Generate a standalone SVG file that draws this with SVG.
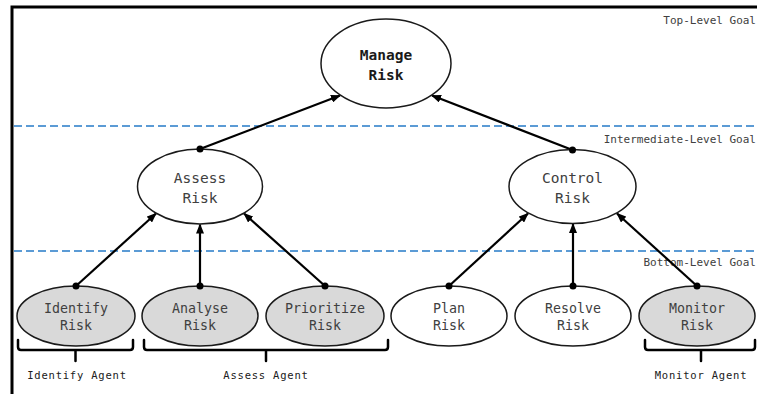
<svg xmlns="http://www.w3.org/2000/svg" width="757" height="394" viewBox="0 0 757 394">
  <style>
    text { font-family: "DejaVu Sans Mono", "Liberation Mono", monospace; fill: #404040; }
    .node { stroke: #1a1a1a; stroke-width: 1.5; fill: #ffffff; }
    .agent-node { fill: #d9d9d9; }
    .lbl-top { font-size: 14.5px; font-weight: bold; fill: #1a1a1a; text-anchor: middle; }
    .lbl-mid { font-size: 14.5px; text-anchor: middle; }
    .lbl-bot { font-size: 13.3px; text-anchor: middle; }
    .level { font-size: 11px; text-anchor: end; fill: #404040; }
    .agent { font-size: 10.5px; letter-spacing: 0.8px; text-anchor: middle; fill: #202020; }
    .divider { stroke: #5b9bd5; stroke-width: 2; stroke-dasharray: 8 4; }
    .edge { stroke: #000000; stroke-width: 2.2; fill: none; marker-end: url(#arrow); }
    .dot { fill: #000000; }
    .brace { stroke: #000000; stroke-width: 2.5; fill: none; stroke-linecap: round; stroke-linejoin: round; }
    .frame { stroke: #000000; stroke-width: 3; fill: none; }
  </style>
  <defs>
    <marker id="arrow" markerUnits="userSpaceOnUse" markerWidth="10" markerHeight="8" viewBox="0 0 10 8" refX="9" refY="4" orient="auto">
      <path d="M0,0 L10,4 L0,8 z" fill="#000000"/>
    </marker>
  </defs>

  <rect width="757" height="394" fill="#ffffff"/>

  <!-- frame -->
  <path class="frame" d="M12,394 V7 H757"/>

  <!-- level dividers -->
  <g id="levels">
    <line class="divider" x1="14" y1="126" x2="757" y2="126"/>
    <line class="divider" x1="14" y1="251" x2="757" y2="251"/>
    <text class="level" x="756" y="24">Top-Level Goal</text>
    <text class="level" x="756" y="143">Intermediate-Level Goal</text>
    <text class="level" x="756" y="266">Bottom-Level Goal</text>
  </g>

  <!-- connectors -->
  <g id="connectors">
    <line class="edge" x1="200" y1="149" x2="340" y2="95.5"/>
    <line class="edge" x1="572.5" y1="150" x2="432" y2="95.5"/>
    <line class="edge" x1="76" y1="286" x2="156" y2="213.5"/>
    <line class="edge" x1="200" y1="286" x2="200" y2="224.5"/>
    <line class="edge" x1="325" y1="286" x2="244" y2="213.5"/>
    <line class="edge" x1="449" y1="286" x2="528" y2="213.5"/>
    <line class="edge" x1="573" y1="286" x2="573" y2="224"/>
    <line class="edge" x1="697" y1="286" x2="617" y2="213.5"/>
  </g>

  <!-- goal nodes -->
  <g id="manage-risk">
    <ellipse class="node" cx="386" cy="63.5" rx="65" ry="44.5"/>
    <text class="lbl-top" x="386" y="60">Manage</text>
    <text class="lbl-top" x="386" y="80">Risk</text>
  </g>
  <g id="assess-risk">
    <ellipse class="node" cx="200" cy="186.5" rx="62.5" ry="37.5"/>
    <text class="lbl-mid" x="200" y="183">Assess</text>
    <text class="lbl-mid" x="200" y="203">Risk</text>
  </g>
  <g id="control-risk">
    <ellipse class="node" cx="572.5" cy="186.5" rx="63.5" ry="37"/>
    <text class="lbl-mid" x="572.5" y="183">Control</text>
    <text class="lbl-mid" x="572.5" y="203">Risk</text>
  </g>
  <g id="identify-risk">
    <ellipse class="node agent-node" cx="76" cy="316" rx="59" ry="30"/>
    <text class="lbl-bot" x="76" y="313">Identify</text>
    <text class="lbl-bot" x="76" y="330">Risk</text>
  </g>
  <g id="analyse-risk">
    <ellipse class="node agent-node" cx="200" cy="316" rx="58" ry="30"/>
    <text class="lbl-bot" x="200" y="313">Analyse</text>
    <text class="lbl-bot" x="200" y="330">Risk</text>
  </g>
  <g id="prioritize-risk">
    <ellipse class="node agent-node" cx="325" cy="316" rx="59" ry="30"/>
    <text class="lbl-bot" x="325" y="313">Prioritize</text>
    <text class="lbl-bot" x="325" y="330">Risk</text>
  </g>
  <g id="plan-risk">
    <ellipse class="node" cx="449" cy="316" rx="58" ry="30"/>
    <text class="lbl-bot" x="449" y="313">Plan</text>
    <text class="lbl-bot" x="449" y="330">Risk</text>
  </g>
  <g id="resolve-risk">
    <ellipse class="node" cx="573" cy="316" rx="58" ry="30"/>
    <text class="lbl-bot" x="573" y="313">Resolve</text>
    <text class="lbl-bot" x="573" y="330">Risk</text>
  </g>
  <g id="monitor-risk">
    <ellipse class="node agent-node" cx="697" cy="316" rx="58" ry="30"/>
    <text class="lbl-bot" x="697" y="313">Monitor</text>
    <text class="lbl-bot" x="697" y="330">Risk</text>
  </g>

  <!-- connector origin dots -->
  <g id="connector-dots">
    <circle class="dot" cx="200" cy="149" r="3.5"/>
    <circle class="dot" cx="572.5" cy="150" r="3.5"/>
    <circle class="dot" cx="76" cy="286" r="3.5"/>
    <circle class="dot" cx="200" cy="286" r="3.5"/>
    <circle class="dot" cx="325" cy="286" r="3.5"/>
    <circle class="dot" cx="449" cy="286" r="3.5"/>
    <circle class="dot" cx="573" cy="286" r="3.5"/>
    <circle class="dot" cx="697" cy="286" r="3.5"/>
  </g>

  <!-- agent groupings -->
  <g id="identify-agent">
    <path class="brace" d="M18,340 V347 Q18,350 21,350 H130 Q133,350 133,347 V340 M75.5,350 V361"/>
    <text class="agent" x="77" y="379">Identify Agent</text>
  </g>
  <g id="assess-agent">
    <path class="brace" d="M144,340 V347 Q144,350 147,350 H385 Q388,350 388,347 V340 M266,350 V361"/>
    <text class="agent" x="266" y="379">Assess Agent</text>
  </g>
  <g id="monitor-agent">
    <path class="brace" d="M645,340 V347 Q645,350 648,350 H752 Q755,350 755,347 V340 M701,350 V361"/>
    <text class="agent" x="701" y="379">Monitor Agent</text>
  </g>
</svg>
